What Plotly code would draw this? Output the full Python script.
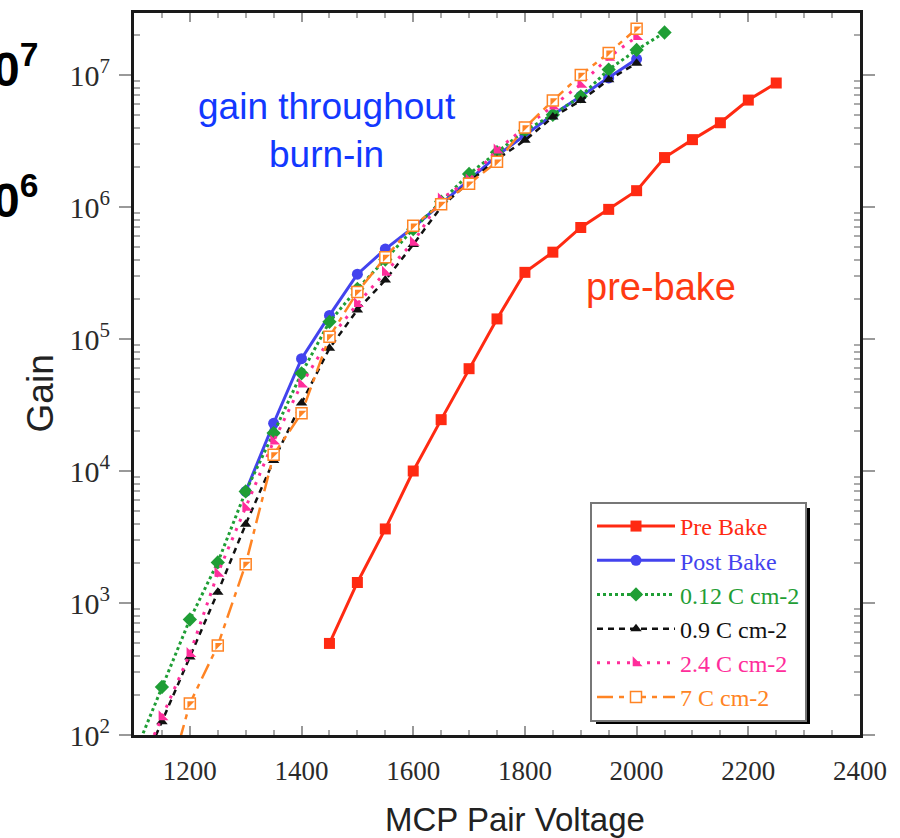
import plotly.graph_objects as go

# ---------------- data ----------------
volt_pre = [1450, 1500, 1550, 1600, 1650, 1700, 1750, 1800, 1850, 1900, 1950, 2000, 2050, 2100, 2150, 2200, 2250]
gain_pre = [494, 1430, 3640, 1.0e4, 2.45e4, 5.96e4, 1.42e5, 3.2e5, 4.55e5, 7.0e5, 9.6e5, 1.33e6, 2.37e6, 3.24e6, 4.35e6, 6.46e6, 8.7e6]

volt_post = [1300, 1350, 1400, 1450, 1500, 1550, 1600, 1650, 1700, 1750, 1800, 1850, 1900, 1950, 2000]
gain_post = [7.0e3, 2.3e4, 7.1e4, 1.51e5, 3.1e5, 4.8e5, 7.0e5, 1.05e6, 1.6e6, 2.45e6, 3.5e6, 5.0e6, 6.9e6, 9.5e6, 1.32e7]

volt_012 = [1100, 1150, 1200, 1250, 1300, 1350, 1400, 1450, 1500, 1550, 1600, 1650, 1700, 1750, 1800, 1850, 1900, 1950, 2000, 2050]
gain_012 = [70, 231, 750, 2030, 7.0e3, 1.94e4, 5.5e4, 1.35e5, 2.4e5, 4.0e5, 6.8e5, 1.1e6, 1.78e6, 2.6e6, 3.8e6, 5.0e6, 6.9e6, 1.1e7, 1.55e7, 2.1e7]

volt_09 = [1100, 1150, 1200, 1250, 1300, 1350, 1400, 1450, 1500, 1550, 1600, 1650, 1700, 1750, 1800, 1850, 1900, 1950, 2000]
gain_09 = [41, 126, 390, 1205, 3950, 1.2e4, 3.27e4, 8.5e4, 1.66e5, 2.8e5, 5.2e5, 1.0e6, 1.55e6, 2.3e6, 3.2e6, 4.8e6, 6.4e6, 9.2e6, 1.23e7]

volt_24 = [1100, 1150, 1200, 1250, 1300, 1350, 1400, 1450, 1500, 1550, 1600, 1650, 1700, 1750, 1800, 1850, 1900, 1950, 2000]
gain_24 = [45, 137, 413, 1676, 5300, 1.68e4, 4.54e4, 1.0e5, 1.85e5, 3.2e5, 5.4e5, 1.15e6, 1.6e6, 2.7e6, 4.0e6, 5.8e6, 8.5e6, 1.36e7, 1.95e7]

volt_7 = [1150, 1200, 1250, 1300, 1350, 1400, 1450, 1500, 1550, 1600, 1650, 1700, 1750, 1800, 1850, 1900, 1950, 2000]
gain_7 = [30, 173, 477, 1970, 1.33e4, 2.74e4, 1.04e5, 2.27e5, 4.17e5, 7.2e5, 1.05e6, 1.5e6, 2.2e6, 4.0e6, 6.4e6, 1.0e7, 1.47e7, 2.24e7]

series_names = ["Pre Bake", "Post Bake", "0.12 C cm-2", "0.9 C cm-2", "2.4 C cm-2", "7 C cm-2"]
x_ticks = [1200, 1400, 1600, 1800, 2000, 2200, 2400]
y_exponents = [2, 3, 4, 5, 6, 7]

# ---------------- styling ----------------
W, H = 900, 838
L, R, T, B = 134, 40, 10, 103
PW, PH = W - L - R, H - T - B

def px(x):
    return (x - L) / PW

def py(y):
    return (H - B - y) / PH

RED = "#ff2a12"
BLUE = "#4343ee"
GREEN = "#1f9e35"
BLACK = "#111111"
PINK = "#ff2d9b"
ORANGE = "#ff8424"

def lname(name, color):
    return f"<span style='color:{color}'>{name}</span>"

fig = go.Figure()

fig.add_trace(go.Scatter(
    x=volt_pre, y=gain_pre, mode="lines+markers", name=lname(series_names[0], RED),
    line=dict(color=RED, width=3), marker=dict(symbol="square", size=11, color=RED)))
fig.add_trace(go.Scatter(
    x=volt_post, y=gain_post, mode="lines+markers", name=lname(series_names[1], BLUE),
    line=dict(color=BLUE, width=3), marker=dict(symbol="circle", size=11, color=BLUE)))
fig.add_trace(go.Scatter(
    x=volt_012, y=gain_012, mode="lines+markers", name=lname(series_names[2], GREEN),
    line=dict(color=GREEN, width=3, dash="dot"), marker=dict(symbol="diamond", size=11, color=GREEN)))
fig.add_trace(go.Scatter(
    x=volt_09, y=gain_09, mode="lines+markers", name=lname(series_names[3], BLACK),
    line=dict(color=BLACK, width=2.5, dash="6px,5px"), marker=dict(symbol="triangle-up", size=10, color=BLACK)))
fig.add_trace(go.Scatter(
    x=volt_24, y=gain_24, mode="lines+markers", name=lname(series_names[4], PINK),
    line=dict(color=PINK, width=3, dash="3px,7px"), marker=dict(symbol="triangle-sw", size=11, color=PINK)))
fig.add_trace(go.Scatter(
    x=volt_7, y=gain_7, mode="lines+markers", name=lname(series_names[5], ORANGE),
    line=dict(color=ORANGE, width=2.5, dash="16px,6px,5px,6px"),
    marker=dict(symbol="square", size=11, color="white", line=dict(color=ORANGE, width=1.5))))
fig.add_trace(go.Scatter(
    x=volt_7, y=gain_7, mode="markers", showlegend=False, hoverinfo="skip",
    marker=dict(symbol="triangle-nw", size=8, color=ORANGE)))

y_minor = [k * 10 ** e for e in range(2, 8) for k in range(2, 10)]

fig.update_xaxes(
    range=[1100, 2400], tickvals=x_ticks, ticktext=[str(v) for v in x_ticks],
    ticks="inside", ticklen=9, tickcolor="#999", tickwidth=1.5,
    minor=dict(dtick=50, ticks="inside", ticklen=5, tickcolor="#aaa"),
    showline=True, linecolor="#1a1a1a", linewidth=3, mirror="allticks",
    showgrid=False, zeroline=False,
    tickfont=dict(family="Liberation Serif", size=27, color="#2a2a2a"),
    ticklabelstandoff=10,
)
fig.update_yaxes(
    type="log", range=[2, 7.47],
    tickvals=[10 ** e for e in y_exponents],
    ticktext=[f"10<sup>{e}</sup>" for e in y_exponents],
    ticks="outside", ticklen=12, tickcolor="#999", tickwidth=1.5,
    minor=dict(tickvals=y_minor, ticks="inside", ticklen=6, tickcolor="#aaa"),
    showline=True, linecolor="#1a1a1a", linewidth=3, mirror="allticks",
    showgrid=False, zeroline=False,
    tickfont=dict(family="Liberation Serif", size=30, color="#2a2a2a"),
    ticklabelstandoff=3,
)

def ann(text, x, y, size, color, xanchor="center", bold=False, **kw):
    font = dict(family="Liberation Sans", size=size, color=color)
    if bold:
        font["weight"] = "bold"
    return dict(text=text, x=px(x), y=py(y), xref="paper", yref="paper",
                xanchor=xanchor, yanchor="middle", showarrow=False, font=font, **kw)

annotations = [
    ann("gain throughout<br>burn-in", 327, 128, 37, "#1238ff", align="center"),
    ann("pre-bake", 661, 285, 38, "#ff3a12"),
    ann("Gain", 40, 392, 37, "#222", textangle=-90),
    ann("MCP Pair Voltage", 515, 820, 33, "#222"),
    ann("0<sup>7</sup>", -9, 63, 48, "#000", xanchor="left", bold=True),
    ann("0<sup>6</sup>", -9, 195, 48, "#000", xanchor="left", bold=True),
]

shapes = [
    dict(type="rect", xref="paper", yref="paper", x0=px(596), x1=px(810), y0=py(724), y1=py(507),
         fillcolor="#000", line=dict(width=0), layer="above"),
]

fig.update_layout(
    width=W, height=H, margin=dict(l=L, r=R, t=T, b=B),
    paper_bgcolor="white", plot_bgcolor="white",
    showlegend=True,
    legend=dict(x=px(590), y=py(501), xanchor="left", yanchor="top",
                bgcolor="white", bordercolor="#777", borderwidth=2,
                font=dict(family="Liberation Serif", size=24),
                itemwidth=78, tracegroupgap=0),
    annotations=annotations, shapes=shapes,
)

fig.write_html("out.html")
